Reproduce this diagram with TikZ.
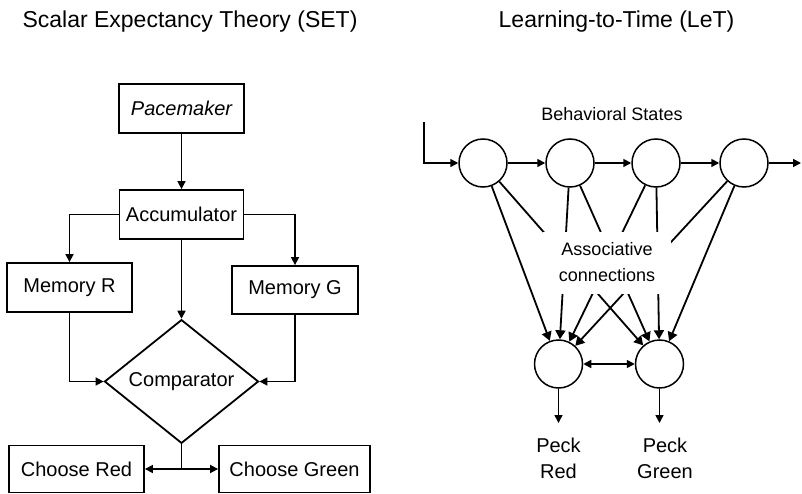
\documentclass[tikz,border=0pt]{standalone}
\usepackage{fontspec}
\setmainfont{Liberation Sans}
\usetikzlibrary{arrows.meta,shapes.geometric}
\begin{document}
\begin{tikzpicture}[x=1pt,y=-1pt,
  titletext/.style={inner sep=0pt, font=\fontsize{23}{27}\selectfont},
  box/.style={draw, line width=1.8pt, inner sep=0pt, font=\fontsize{20}{24}\selectfont},
  cmpbox/.style={diamond, draw, line width=1.8pt, inner sep=0pt, minimum width=154pt, minimum height=105pt, font=\fontsize{20}{24}\selectfont},
  arr/.style={line width=1.6pt, -{Triangle[length=8pt,width=8pt]}},
  state/.style={circle, draw, line width=1.5pt, minimum size=48pt, inner sep=0pt},
  syn/.style={line width=1.8pt, -{Triangle[length=9pt,width=10pt]}},
  smalltext/.style={inner sep=0pt, font=\fontsize{18}{26}\selectfont, align=center},
  pecktext/.style={inner sep=0pt, font=\fontsize{20}{26}\selectfont, align=center}
]
\useasboundingbox (0,0) rectangle (802,494);

% titles
\node[titletext, anchor=base] (t1) at (190,28) {Scalar Expectancy Theory (SET)};
\node[titletext, anchor=base] (t2) at (616.5,28) {Learning-to-Time (LeT)};

% ---------- SET ----------
\node[box, minimum width=125pt, minimum height=49pt, font=\fontsize{20}{24}\selectfont\itshape] (pace) at (181.5,108.5) {Pacemaker};
\node[box, minimum width=124pt, minimum height=49pt] (acc) at (181.5,214.5) {Accumulator};
\node[box, minimum width=125pt, minimum height=49pt] (memr) at (69.5,287.5) {Memory R};
\node[box, minimum width=126pt, minimum height=48pt] (memg) at (295,290) {Memory G};
\node[cmpbox] (cmp) at (181.5,381.5) {Comparator};
\node[box, minimum width=135pt, minimum height=47pt] (red) at (76.5,469) {Choose Red};
\node[box, minimum width=151pt, minimum height=47pt] (green) at (294.5,469) {Choose Green};
\coordinate (split) at (181.5,469);

\draw[arr] (pace) -- (acc);
\draw[arr] (acc.west) -| (memr.north);
\draw[arr] (acc.east) -| (memg.north);
\draw[arr] (acc) -- (cmp);
\draw[arr] (memr.south) |- (cmp.west);
\draw[arr] (memg.south) |- (cmp.east);
\draw[line width=1.6pt] (cmp.south) -- (split);
\draw[arr] (split) -- (red.east);
\draw[arr] (split) -- (green.west);

% ---------- LeT ----------
\node[smalltext, anchor=base] (bs) at (612,121) {Behavioral States};
\node[state] (s1) at (483,163) {};
\node[state] (s2) at (570,163) {};
\node[state] (s3) at (656,163) {};
\node[state] (s4) at (744,163) {};
\coordinate (in) at (424,122);
\coordinate (out) at (801,163);
\draw[arr] (in) |- (s1);
\draw[arr] (s1) -- (s2);
\draw[arr] (s2) -- (s3);
\draw[arr] (s3) -- (s4);
\draw[arr] (s4) -- (out);

\node[state] (pr) at (558.5,364) {};
\node[state] (pg) at (659.5,364) {};

\foreach \s in {s1,s2,s3,s4}{
  \draw[syn] (\s) -- (pr);
  \draw[syn] (\s) -- (pg);
}
\node[smalltext, fill=white, minimum width=128pt, minimum height=62pt] (lab) at (607,262.5) {Associative\\connections};

\draw[line width=1.6pt, {Triangle[length=8pt,width=8pt]}-{Triangle[length=8pt,width=8pt]}] (pr) -- (pg);
\coordinate (pro) at (558.5,423);
\coordinate (pgo) at (659.5,423);
\draw[arr] (pr) -- (pro);
\draw[arr] (pg) -- (pgo);
\node[pecktext, anchor=north] (lr) at (558.5,437.5) {Peck\\Red};
\node[pecktext, anchor=north] (lg) at (665,437.5) {Peck\\Green};
\end{tikzpicture}
\end{document}
